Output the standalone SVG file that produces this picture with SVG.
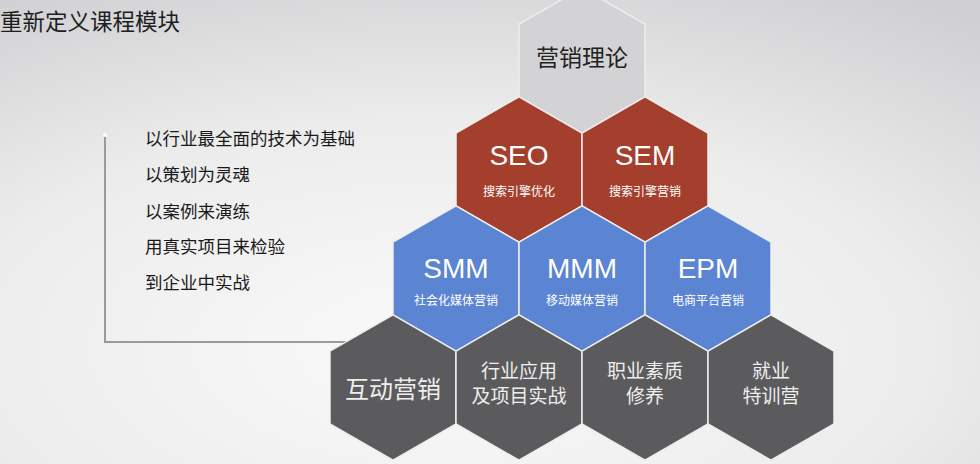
<svg xmlns="http://www.w3.org/2000/svg" width="980" height="464" viewBox="0 0 980 464">
<defs>
<radialGradient id="bg" cx="0.45" cy="0.75" r="0.9">
<stop offset="0" stop-color="#fafafa"/>
<stop offset="0.55" stop-color="#ececed"/>
<stop offset="1" stop-color="#cfcfd1"/>
</radialGradient>
<polygon id="hex" points="0,-72.7 63,-36.4 63,36.4 0,72.7 -63,36.4 -63,-36.4"/>
</defs>
<style>
.hx{stroke:#eeeeee;stroke-width:1.5}
.g0{fill:#d3d3d5}
.red{fill:#a43f2d}
.blue{fill:#5b84d3}
.dark{fill:#5b5a5c}
.big{font-family:"Liberation Sans","Noto Sans CJK SC",sans-serif;font-size:28px;fill:#ffffff;text-anchor:middle}
.sub{font-family:"Noto Sans CJK SC",sans-serif;font-size:12px;fill:#ffffff;text-anchor:middle}
.bt{font-family:"Noto Sans CJK SC",sans-serif;font-size:19px;fill:#eeeeee;text-anchor:middle}
.li{font-family:"Noto Sans CJK SC",sans-serif;font-size:17.5px;fill:#1a1a1a}
</style>
<rect width="980" height="464" fill="url(#bg)"/>
<text x="0" y="30" font-family="Noto Sans CJK SC, sans-serif" font-size="22.5" fill="#1e1e1e">重新定义课程模块</text>
<g id="connectors">
<polyline points="105,135 105,342 346,342" fill="none" stroke="#9a9a9c" stroke-width="2"/>
<circle cx="105" cy="135" r="2" fill="#ffffff"/>
</g>
<g id="list">
<text class="li" x="145" y="145">以行业最全面的技术为基础</text>
<text class="li" x="145" y="181">以策划为灵魂</text>
<text class="li" x="145" y="218">以案例来演练</text>
<text class="li" x="145" y="253">用真实项目来检验</text>
<text class="li" x="145" y="289">到企业中实战</text>
</g>
<g id="n-theory">
<use href="#hex" class="hx g0" x="582" y="60.5"/>
<text x="582" y="66" font-family="Noto Sans CJK SC, sans-serif" font-size="23" fill="#222222" text-anchor="middle">营销理论</text>
</g>
<g id="n-seo">
<use href="#hex" class="hx red" x="519" y="169.5"/>
<text class="big" x="519" y="165">SEO</text>
<text class="sub" x="519" y="196">搜索引擎优化</text>
</g>
<g id="n-sem">
<use href="#hex" class="hx red" x="645" y="169.5"/>
<text class="big" x="645" y="165">SEM</text>
<text class="sub" x="645" y="196">搜索引擎营销</text>
</g>
<g id="n-smm">
<use href="#hex" class="hx blue" x="456" y="278.5"/>
<text class="big" x="456" y="278">SMM</text>
<text class="sub" x="456" y="305">社会化媒体营销</text>
</g>
<g id="n-mmm">
<use href="#hex" class="hx blue" x="582" y="278.5"/>
<text class="big" x="582" y="278">MMM</text>
<text class="sub" x="582" y="305">移动媒体营销</text>
</g>
<g id="n-epm">
<use href="#hex" class="hx blue" x="708" y="278.5"/>
<text class="big" x="708" y="278">EPM</text>
<text class="sub" x="708" y="305">电商平台营销</text>
</g>
<g id="n-interact">
<use href="#hex" class="hx dark" x="393" y="387.5"/>
<text x="393" y="398" font-family="Noto Sans CJK SC, sans-serif" font-size="24" fill="#eeeeee" text-anchor="middle">互动营销</text>
</g>
<g id="n-industry">
<use href="#hex" class="hx dark" x="519" y="387.5"/>
<text class="bt" x="519" y="378">行业应用</text>
<text class="bt" x="519" y="403">及项目实战</text>
</g>
<g id="n-quality">
<use href="#hex" class="hx dark" x="645" y="387.5"/>
<text class="bt" x="645" y="378">职业素质</text>
<text class="bt" x="645" y="403">修养</text>
</g>
<g id="n-job">
<use href="#hex" class="hx dark" x="771" y="387.5"/>
<text class="bt" x="771" y="378">就业</text>
<text class="bt" x="771" y="403">特训营</text>
</g>
</svg>
